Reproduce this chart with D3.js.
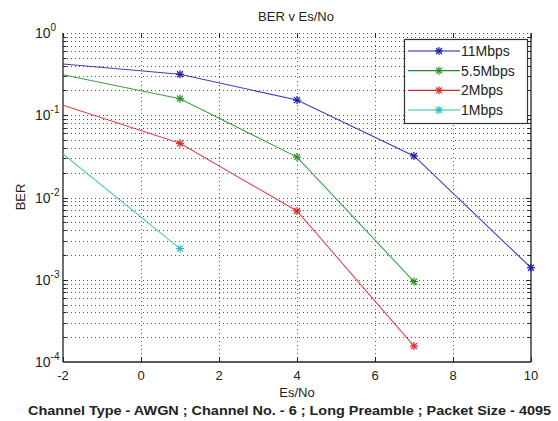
<!DOCTYPE html>
<html><head><meta charset="utf-8">
<script src="https://cdn.jsdelivr.net/npm/d3@7"></script>
<style>
body{margin:0;background:#fff;}
text{font-family:"Liberation Sans",Arial,sans-serif;fill:#222;}
</style></head>
<body><svg id="c" width="558" height="421"></svg>
<script>
const esno = [-2, 1, 4, 7, 10];
const ber11 = [0.42, 0.315, 0.153, 0.032, 0.0014];
const ber55 = [0.31, 0.159, 0.031, 0.00095];
const ber2 = [0.132, 0.0456, 0.00685, 0.000156];
const ber1 = [0.0338, 0.00239];
const seriesNames = ["11Mbps", "5.5Mbps", "2Mbps", "1Mbps"];
const seriesColors = ["#1c1ca8", "#1f8f1f", "#d42a2a", "#2fbdbd"];
const xTicks = [-2, 0, 2, 4, 6, 8, 10];
const yExps = [0, -1, -2, -3, -4];
const titleText = "BER v Es/No";
const xLabel = "Es/No";
const yLabel = "BER";
const caption = "Channel Type - AWGN ; Channel No. - 6 ; Long Preamble ; Packet Size - 4095";

const svg = d3.select("#c");
const L = 63, R = 531, T = 33, B = 362;
const x = d3.scaleLinear([-2, 10], [L, R]);
const y = d3.scaleLog([1e-4, 1], [B, T]);

// grid
const g = svg.append("g");
const minorVals = [];
for (let e = -4; e < 0; e++) for (let m = 1; m <= 9; m++) minorVals.push(m * Math.pow(10, e));
minorVals.push(1);
g.selectAll("line.hg").data(minorVals.filter(v => v > 1e-4)).join("line")
  .attr("x1", L).attr("x2", R).attr("y1", d => Math.round(y(d)) + 0.5).attr("y2", d => Math.round(y(d)) + 0.5)
  .attr("stroke", "#555").attr("stroke-dasharray", "1,3");
g.selectAll("line.vg").data(xTicks.filter(v => v > -2 && v < 10)).join("line")
  .attr("y1", T).attr("y2", B).attr("x1", d => Math.round(x(d)) + 0.5).attr("x2", d => Math.round(x(d)) + 0.5)
  .attr("stroke", "#555").attr("stroke-dasharray", "1,3");

// axes lines
const ax = svg.append("g").attr("stroke", "#222").attr("stroke-width", 1.3);
ax.append("line").attr("x1", L).attr("x2", L).attr("y1", T).attr("y2", B);
ax.append("line").attr("x1", L).attr("x2", R).attr("y1", B).attr("y2", B);
ax.append("line").attr("x1", R).attr("x2", R).attr("y1", T).attr("y2", B);
// ticks
const tk = svg.append("g").attr("stroke", "#222").attr("stroke-width", 1);
minorVals.filter(v => v > 1e-4 && v < 1).forEach(v => {
  const isMajor = Math.abs(Math.log10(v) - Math.round(Math.log10(v))) < 1e-9;
  const len = isMajor ? 5 : 3.5;
  const yy = Math.round(y(v)) + 0.5;
  tk.append("line").attr("x1", L).attr("x2", L + len).attr("y1", yy).attr("y2", yy);
  tk.append("line").attr("x1", R).attr("x2", R - len).attr("y1", yy).attr("y2", yy);
});
xTicks.forEach(v => {
  const xx = Math.round(x(v)) + 0.5;
  tk.append("line").attr("x1", xx).attr("x2", xx).attr("y1", B).attr("y2", B - 5);
  tk.append("line").attr("x1", xx).attr("x2", xx).attr("y1", T).attr("y2", T + 5);
});

// tick labels
svg.append("g").selectAll("text").data(xTicks).join("text")
  .attr("x", d => x(d)).attr("y", 380).attr("text-anchor", "middle")
  .attr("font-size", 13).text(d => d);
const yl = svg.append("g").selectAll("text").data(yExps).join("text")
  .attr("x", 35).attr("y", d => y(Math.pow(10, d)) + 5).attr("font-size", 14);
yl.append("tspan").text("10");
yl.append("tspan").attr("dy", -7).attr("font-size", 10).text(d => d);

// lines
const allSeries = [ber11, ber55, ber2, ber1];
const line = d3.line().x(d => x(d[0])).y(d => y(d[1]));
allSeries.forEach((vals, i) => {
  const pts = vals.map((v, j) => [esno[j], v]);
  svg.append("path").attr("d", line(pts)).attr("fill", "none")
    .attr("stroke", seriesColors[i]).attr("stroke-width", 1.1).attr("stroke-opacity", 0.85);
  pts.filter(p => p[0] > -2).forEach(p => drawStar(svg, x(p[0]), y(p[1]), seriesColors[i]));
});

function drawStar(sel, cx, cy, col) {
  const s = 4, d = 3;
  const gg = sel.append("g").attr("stroke", col).attr("stroke-width", 1.2);
  gg.append("line").attr("x1", cx - s).attr("x2", cx + s).attr("y1", cy).attr("y2", cy);
  gg.append("line").attr("x1", cx).attr("x2", cx).attr("y1", cy - s).attr("y2", cy + s);
  gg.append("line").attr("x1", cx - d).attr("x2", cx + d).attr("y1", cy - d).attr("y2", cy + d);
  gg.append("line").attr("x1", cx - d).attr("x2", cx + d).attr("y1", cy + d).attr("y2", cy - d);
}

// legend
const lg = svg.append("g");
lg.append("rect").attr("x", 404.5).attr("y", 39.5).attr("width", 123).attr("height", 84)
  .attr("fill", "#fff").attr("stroke", "#333").attr("stroke-width", 1.2);
const legY = d3.scaleLinear([0, 3], [51, 110]);
seriesNames.forEach((n, i) => {
  const yy = legY(i);
  lg.append("line").attr("x1", 408).attr("x2", 460).attr("y1", yy).attr("y2", yy)
    .attr("stroke", seriesColors[i]).attr("stroke-width", 1.1);
  drawStar(lg, 439, yy, seriesColors[i]);
  lg.append("text").attr("x", 461).attr("y", yy + 5).attr("font-size", 14).text(n);
});

// titles
svg.append("text").attr("x", 296).attr("y", 21).attr("text-anchor", "middle").attr("font-size", 13).text(titleText);
svg.append("text").attr("x", 297).attr("y", 397).attr("text-anchor", "middle").attr("font-size", 13).text(xLabel);
svg.append("text").attr("transform", "translate(25,197) rotate(-90)").attr("text-anchor", "middle").attr("font-size", 13).text(yLabel);
svg.append("text").attr("x", 28).attr("y", 415).attr("font-size", 13).attr("font-weight", "bold")
  .attr("textLength", 523).attr("lengthAdjust", "spacingAndGlyphs").text(caption);
</script></body></html>
